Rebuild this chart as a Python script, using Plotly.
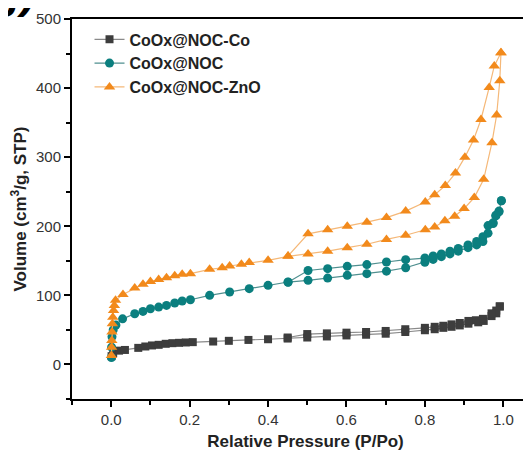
import plotly.graph_objects as go

# ---- data ----
co_ads_x = [0.001, 0.005, 0.02, 0.035, 0.069, 0.087, 0.104, 0.121, 0.139, 0.156, 0.173, 0.19, 0.208,
            0.26, 0.30, 0.35, 0.40, 0.45, 0.50, 0.55, 0.60, 0.65, 0.70, 0.75, 0.80, 0.825, 0.847,
            0.868, 0.889, 0.911, 0.936, 0.95, 0.97, 0.982, 0.991]
co_ads_y = [12, 16, 20, 21, 24, 26, 27.5, 28.4, 29.9, 30.8, 31.3, 31.8, 32.3,
            33.2, 34.2, 35.5, 36.5, 37.5, 39, 40.5, 42, 43, 44.5, 47, 49.5, 51, 53,
            54.5, 56.5, 59, 61, 63, 70, 74, 84]
co_des_x = [0.991, 0.982, 0.97, 0.948, 0.93, 0.911, 0.889, 0.868, 0.847, 0.825, 0.80, 0.75,
            0.70, 0.65, 0.60, 0.55, 0.50, 0.45]
co_des_y = [84, 78, 74, 66, 64, 63, 60, 58, 56, 54.5, 53, 51,
            48.5, 47, 46, 45, 44, 39]

noc_ads_x = [0.0005, 0.001, 0.002, 0.005, 0.012, 0.029, 0.06, 0.081, 0.1, 0.121, 0.141, 0.162,
             0.181, 0.202, 0.251, 0.302, 0.352, 0.40, 0.451, 0.502, 0.552, 0.602, 0.652, 0.702,
             0.751, 0.80, 0.821, 0.842, 0.864, 0.885, 0.91, 0.932, 0.948, 0.961, 0.974, 0.981,
             0.989, 0.995]
noc_ads_y = [10, 25, 40, 50, 57, 66, 73.4, 76.8, 80.7, 83, 85.5, 88.9,
             91.8, 93.7, 100, 104.8, 109.7, 114.5, 119.3, 121.7, 125, 129, 131.4, 135,
             140, 148, 152, 156, 160, 164, 169, 173, 178, 190, 204, 215,
             222, 237]
noc_des_x = [0.995, 0.989, 0.981, 0.974, 0.961, 0.948, 0.932, 0.91, 0.885, 0.864, 0.842, 0.821,
             0.80, 0.751, 0.702, 0.652, 0.602, 0.552, 0.502, 0.451]
noc_des_y = [237, 221, 216, 205, 201, 185, 178, 173, 168, 164, 160, 157,
             154, 151.7, 148.3, 144.5, 142, 138.7, 136, 119]

zno_ads_x = [0.0005, 0.001, 0.0015, 0.002, 0.003, 0.004, 0.006, 0.008, 0.011, 0.03, 0.06, 0.081,
             0.1, 0.121, 0.141, 0.162, 0.181, 0.202, 0.251, 0.283, 0.302, 0.332, 0.352, 0.40,
             0.451, 0.502, 0.552, 0.602, 0.652, 0.702, 0.751, 0.801, 0.825, 0.851, 0.876, 0.90,
             0.926, 0.95, 0.971, 0.983, 0.991, 0.994]
zno_ads_y = [13, 25, 34.8, 46.8, 59, 68.5, 78, 85.5, 92.8, 101.4, 110.6, 116,
             120, 123, 125.6, 128.5, 130.4, 131.4, 137.7, 140, 142.5, 145, 147.4, 150.7,
             156.5, 160, 164, 169, 174, 181, 187, 195, 199, 208, 214.5, 225.6,
             241.6, 268, 321, 361, 410.6, 451]
zno_des_x = [0.994, 0.977, 0.964, 0.943, 0.924, 0.902, 0.878, 0.852, 0.825, 0.801, 0.751,
             0.702, 0.652, 0.602, 0.552, 0.502, 0.451]
zno_des_y = [451, 432, 401, 354.6, 325, 300, 277, 259, 245.5, 235, 222,
             212.6, 206, 200, 195, 189, 157]

x_ticks = [0.0, 0.2, 0.4, 0.6, 0.8, 1.0]
y_ticks = [0, 100, 200, 300, 400, 500]

series = [
    ("CoOx@NOC-Co", co_ads_x + co_des_x, co_ads_y + co_des_y, "#3d3d3d", "#8a8a8a", "square", 8),
    ("CoOx@NOC", noc_ads_x + noc_des_x, noc_ads_y + noc_des_y, "#0b7f7f", "#4f8f8f", "circle", 9),
    ("CoOx@NOC-ZnO", zno_ads_x + zno_des_x, zno_ads_y + zno_des_y, "#f28a1c", "#f5b878", "triangle-up", 10),
]

FONT = "Arial, Liberation Sans, sans-serif"
fig = go.Figure()
for name, xs, ys, mc, lc, sym, sz in series:
    fig.add_trace(go.Scatter(
        x=xs, y=ys, mode="lines+markers", name=name,
        line=dict(color=lc, width=1.2),
        marker=dict(symbol=sym, size=sz, color=mc, line=dict(width=0)),
    ))

fig.update_layout(
    width=531, height=455,
    margin=dict(l=64, r=0, t=11, b=64),
    paper_bgcolor="white", plot_bgcolor="white",
    showlegend=True,
    legend=dict(x=0.0375, y=0.991, xanchor="left", yanchor="top",
                bgcolor="rgba(0,0,0,0)", tracegroupgap=0, itemsizing="trace",
                font=dict(family=FONT, size=16, color="#222222", weight="bold")),
    font=dict(family=FONT, size=15, color="#333333"),
)
fig.update_xaxes(
    range=[-0.1, 1.091], tickvals=x_ticks, ticktext=[f"{v:.1f}" for v in x_ticks],
    automargin=False,
    showgrid=False, zeroline=False, showline=True, linecolor="black", linewidth=2,
    mirror=True, ticks="outside", ticklen=6, tickwidth=2, tickcolor="black",
    minor=dict(dtick=0.1, tick0=0, ticks="outside", ticklen=4, tickwidth=2, tickcolor="black"),
    title=dict(text="<b>Relative Pressure (P/Po)</b>", standoff=8,
               font=dict(family=FONT, size=17, color="#222222")),
)
fig.update_yaxes(
    range=[-50, 500], tickvals=y_ticks,
    automargin=False,
    showgrid=False, zeroline=False, showline=True, linecolor="black", linewidth=2,
    mirror=False, ticks="outside", ticklen=6, tickwidth=2, tickcolor="black",
    minor=dict(dtick=50, tick0=0, ticks="outside", ticklen=4, tickwidth=2, tickcolor="black"),
    title=dict(text="<b>Volume (cm<sup>3</sup>/g, STP)</b>", standoff=7,
               font=dict(family=FONT, size=17, color="#222222")),
)
fig.add_annotation(text="<b><i>g)</i></b>", xref="paper", yref="paper", x=-0.175, y=1.0,
                   xanchor="left", yanchor="bottom", showarrow=False,
                   font=dict(family=FONT, size=46, color="black"))
fig.write_html("out.html")
